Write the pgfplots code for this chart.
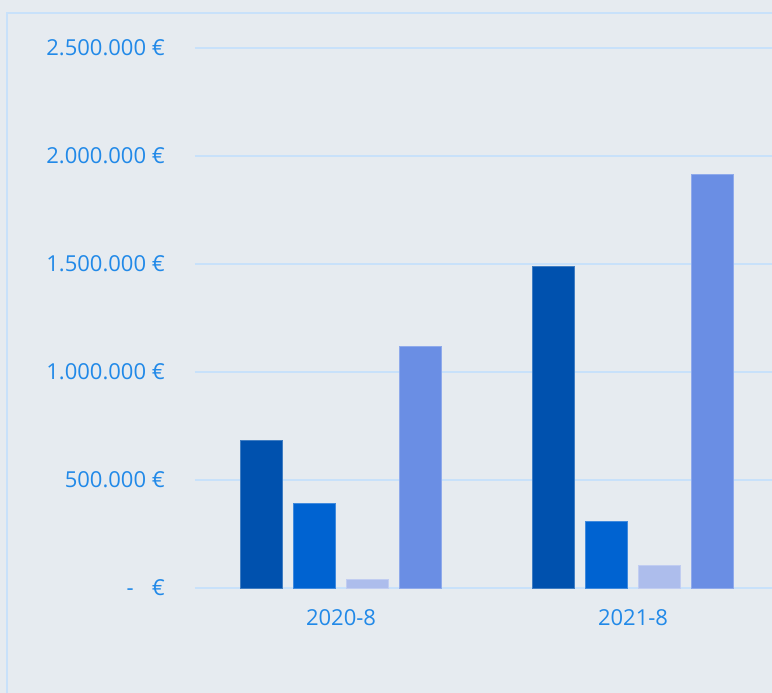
\documentclass[border=0pt]{standalone}
\usepackage{fontspec}
\setmainfont{Open Sans}
\usepackage{pgfplots}
\pgfplotsset{compat=1.18}
\definecolor{bg}{RGB}{230,235,240}
\definecolor{gridc}{RGB}{200,225,250}
\definecolor{txt}{RGB}{33,137,232}
\definecolor{cA}{RGB}{0,81,174}
\definecolor{cB}{RGB}{0,99,209}
\definecolor{cC}{RGB}{173,189,236}
\definecolor{cD}{RGB}{106,142,228}
\begin{document}
\begin{tikzpicture}
\useasboundingbox (0,0) rectangle (772pt,693pt);
\fill[bg] (0,0) rectangle (772pt,693pt);
\draw[gridc, line width=2pt] (7pt,0) -- (7pt,680pt) -- (772pt,680pt);
\begin{axis}[
  at={(195pt,105pt)}, anchor=south west,
  scale only axis, width=577pt, height=540pt,
  xmin=-0.5, xmax=1.476, ymin=0, ymax=2500000,
  clip=false,
  ybar=11pt, bar width=42pt,
  xtick={0,1}, xticklabels={2020-8,2021-8},
  ytick={0,500000,1000000,1500000,2000000,2500000},
  yticklabels={{-\hspace{18pt}€},{500.000 €},{1.000.000 €},{1.500.000 €},{2.000.000 €},{2.500.000 €}},
  scaled y ticks=false,
  ymajorgrids, grid style={gridc, line width=2pt},
  axis line style={draw=none}, major tick length=0pt,
  tick label style={font=\fontsize{22}{26}\selectfont, text=txt, inner sep=0pt},
  yticklabel style={anchor=east, xshift=-30pt},
  xticklabel style={anchor=north, yshift=-21pt},
]
\addplot[fill=cA, draw=cA!75!white, line width=0.8pt] coordinates {(0,685000) (1,1490000)};
\addplot[fill=cB, draw=cB!75!white, line width=0.8pt] coordinates {(0,392000) (1,310000)};
\addplot[fill=cC, draw=cC!75!white, line width=0.8pt] coordinates {(0,40000) (1,106000)};
\addplot[fill=cD, draw=cD!75!white, line width=0.8pt] coordinates {(0,1120000) (1,1913000)};
\end{axis}
\end{tikzpicture}
\end{document}
